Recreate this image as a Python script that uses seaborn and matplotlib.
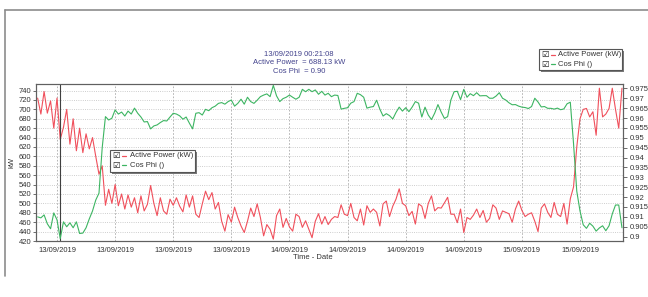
import pandas as pd
import matplotlib
matplotlib.use("Agg")
import matplotlib.pyplot as plt
import seaborn as sns
from matplotlib.lines import Line2D
from matplotlib.patches import Rectangle
from matplotlib.ticker import MultipleLocator, FuncFormatter

# readings every 20 minutes, first one at 12/09/2019 22:00
start_time = "2019-09-12 22:00"
base_time = pd.Timestamp("2019-09-13 00:00")

active_power = [
    724, 690, 738, 692, 718, 660, 724, 636, 662, 700,
    626, 680, 612, 660, 608, 648, 616, 640, 600, 562,
    580, 496, 530, 500, 540, 495, 520, 488, 518, 492,
    512, 480, 516, 484, 498, 538, 500, 474, 512, 484,
    477, 509, 496, 512, 494, 482, 518, 492, 516, 477,
    470, 499, 526, 508, 523, 488, 502, 462, 441, 476,
    460, 492, 470, 452, 438, 462, 490, 472, 499, 470,
    431, 455, 445, 424, 474, 488, 449, 468, 450, 441,
    477, 472, 449, 463, 445, 427, 462, 478, 456, 472,
    455, 466, 472, 470, 497, 477, 474, 500, 470, 463,
    488, 454, 495, 481, 488, 481, 452, 499, 505, 472,
    494, 509, 531, 500, 495, 474, 483, 456, 499, 494,
    468, 500, 516, 484, 491, 490, 501, 513, 477, 477,
    459, 488, 438, 470, 466, 475, 488, 470, 485, 460,
    468, 497, 490, 466, 484, 481, 478, 460, 488, 505,
    485, 472, 477, 480, 462, 440, 490, 499, 481, 470,
    502, 477, 472, 500, 456, 510, 535, 620, 680, 700,
    702, 684, 695, 645, 745, 684, 690, 702, 745, 700,
    660, 745,
]

cos_phi = [
    0.910, 0.9095, 0.911, 0.9065, 0.904, 0.912, 0.9085, 0.899, 0.9075, 0.905,
    0.907, 0.9045, 0.9075, 0.9016, 0.9018, 0.9045, 0.909, 0.913, 0.9185, 0.922,
    0.945, 0.9607, 0.959, 0.9599, 0.9641, 0.962, 0.963, 0.961, 0.9635, 0.962,
    0.965, 0.9624, 0.9605, 0.958, 0.9582, 0.9545, 0.956, 0.9565, 0.9577, 0.9587,
    0.9585, 0.9605, 0.9624, 0.962, 0.9611, 0.9594, 0.9605, 0.9574, 0.9545, 0.9624,
    0.9627, 0.9615, 0.9644, 0.9637, 0.9652, 0.966, 0.9674, 0.9678, 0.967, 0.9683,
    0.9691, 0.966, 0.9674, 0.9695, 0.967, 0.9705, 0.9683, 0.9674, 0.969, 0.9708,
    0.9716, 0.9722, 0.9708, 0.9765, 0.9712, 0.9683, 0.9698, 0.9705, 0.9716, 0.9705,
    0.9695, 0.9705, 0.9745, 0.9733, 0.9745, 0.9733, 0.9742, 0.972, 0.9735, 0.9716,
    0.9725, 0.9708, 0.9716, 0.9714, 0.9645, 0.9649, 0.9652, 0.9675, 0.9683, 0.9725,
    0.9718, 0.9705, 0.965, 0.9655, 0.9658, 0.969, 0.9645, 0.961, 0.9622, 0.9612,
    0.9595, 0.9628, 0.9655, 0.9635, 0.9652, 0.9632, 0.9655, 0.9683, 0.9675, 0.9605,
    0.9655, 0.9615, 0.9592, 0.9625, 0.9668, 0.963, 0.9598, 0.9607, 0.9691, 0.9733,
    0.9735, 0.9693, 0.9745, 0.9705, 0.9723, 0.9713, 0.9728, 0.9712, 0.9713, 0.9713,
    0.970, 0.970, 0.9711, 0.9728, 0.970, 0.9691, 0.9677, 0.9667, 0.9668, 0.966,
    0.9655, 0.9653, 0.9648, 0.9658, 0.970, 0.9681, 0.9656, 0.9658, 0.9649, 0.9649,
    0.9645, 0.965, 0.9642, 0.9646, 0.9672, 0.968, 0.947, 0.923, 0.913, 0.906,
    0.9042, 0.9068, 0.9053, 0.9028, 0.9044, 0.9055, 0.903, 0.9055, 0.9115, 0.916,
    0.916, 0.9045,
]

cursor_time = "2019-09-13 00:21:08"
cursor_lines = ["13/09/2019 00:21:08", "Active Power  = 688.13 kW", "Cos Phi  = 0.90"]
series_labels = ["Active Power (kW)", "Cos Phi ()"]

RED = "#f0505c"
GREEN = "#3db562"
W, H = 648, 297

times = pd.date_range(start_time, periods=len(active_power), freq="20min")
df = pd.DataFrame({
    "hours": (times - base_time).total_seconds() / 3600,
    "power": active_power,
    "cosphi": cos_phi,
})

sns.set_style("white")
plt.rcParams["font.family"] = ["Liberation Sans", "DejaVu Sans"]

fig = plt.figure(figsize=(W / 100, H / 100), dpi=100)


def fx(px):
    return px / W


def fy(py):
    return 1 - py / H


ax = fig.add_axes([fx(36), fy(241), 587 / W, 157 / H])
ax2 = ax.twinx()

sns.lineplot(data=df, x="hours", y="power", ax=ax, color=RED, lw=0.8)
sns.lineplot(data=df, x="hours", y="cosphi", ax=ax2, color=GREEN, lw=0.8)

ax.set_xlim(-2.17, 58.44)
ax.set_ylim(420, 754)
ax2.set_ylim(0.8978, 0.9772)

# x axis: a major tick every 6 hours, labelled with the date only
ax.xaxis.set_major_locator(MultipleLocator(6))
ax.xaxis.set_minor_locator(MultipleLocator(1.5))
ax.xaxis.set_major_formatter(FuncFormatter(
    lambda h, pos: (base_time + pd.Timedelta(hours=h)).strftime("%d/%m/%Y")))
ax.yaxis.set_major_locator(MultipleLocator(20))
ax2.yaxis.set_major_locator(MultipleLocator(0.005))
ax2.yaxis.set_major_formatter(FuncFormatter(lambda v, pos: f"{v:g}"))

ax.tick_params(axis="x", which="major", length=3, width=0.6, pad=1.5,
               labelsize=5.5, colors="#555555", labelcolor="#333333")
ax.tick_params(axis="x", which="minor", length=2, width=0.5, colors="#777777")
ax.tick_params(axis="y", length=2, width=0.6, pad=1.5, labelsize=5.5,
               colors="#555555", labelcolor="#333333")
ax2.tick_params(axis="y", length=3, width=0.6, pad=1.5, labelsize=5.5,
                colors="#555555", labelcolor="#333333")
for a in (ax, ax2):
    for s in a.spines.values():
        s.set_color("#606060")
        s.set_linewidth(0.8)

ax.grid(axis="y", linestyle=":", color="#bdbdbd", lw=0.6)
ax.grid(axis="x", linestyle=(0, (2, 2)), color="#aaaaaa", lw=0.6)
ax.set_axisbelow(True)

ax.set_xlabel("Time - Date", fontsize=5.5, color="#333333")
ax.xaxis.set_label_coords((313 - 36) / 587, -0.085)
ax.set_ylabel("kW", fontsize=5.5, color="#333333")
ax.yaxis.set_label_coords(-(36 - 15) / 587, 0.5)
ax2.set_ylabel("")

# cursor
cursor_h = (pd.Timestamp(cursor_time) - base_time).total_seconds() / 3600
ax.axvline(cursor_h, color="#404040", lw=0.8, zorder=5)

for k, line in enumerate(cursor_lines):
    fig.text(fx(299), fy(54.7 + k * 8.2), line, ha="center", va="center",
             fontsize=5.5, color="#42428c")

# outer panel frame
fig.add_artist(Line2D([fx(5), fx(W)], [fy(10), fy(10)], color="#8c8c8c", lw=1.2))
fig.add_artist(Line2D([fx(5), fx(5)], [fy(10), fy(276)], color="#8c8c8c", lw=1.2))


def draw_legend(left, top, width, height):
    shadow = Rectangle((fx(left + 2), fy(top + height + 2)), width / W, height / H,
                       transform=fig.transFigure, facecolor="#7a7a7a", edgecolor="none")
    box = Rectangle((fx(left), fy(top + height)), width / W, height / H,
                    transform=fig.transFigure, facecolor="white",
                    edgecolor="#555555", lw=0.8)
    fig.add_artist(shadow)
    fig.add_artist(box)
    for k, (label, color) in enumerate(zip(series_labels, [RED, GREEN])):
        yc = top + 5.5 + k * 9.6
        fig.text(fx(left + 6.5), fy(yc), "\u2611", family="DejaVu Sans",
                 fontsize=6, ha="center", va="center", color="#111111")
        fig.add_artist(Line2D([fx(left + 11.5), fx(left + 16)], [fy(yc), fy(yc)],
                              color=color, lw=0.9))
        fig.text(fx(left + 19.5), fy(yc), label, fontsize=5.5, ha="left",
                 va="center", color="#333333")


draw_legend(539, 49, 83, 21)
draw_legend(110, 150, 85, 21.5)

fig.savefig("out.png", dpi=100)
